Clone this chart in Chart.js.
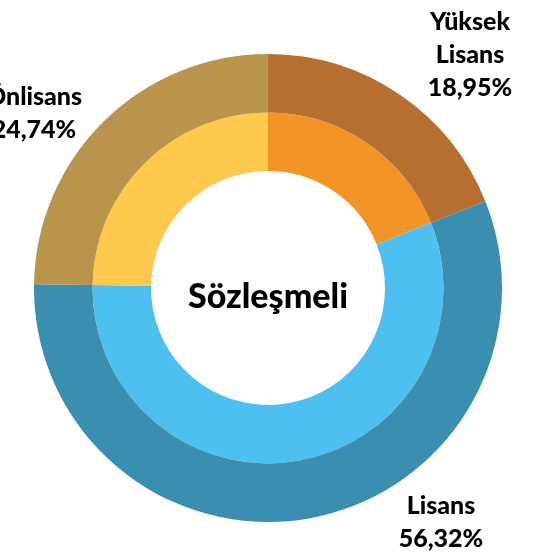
<!DOCTYPE html>
<html>
<head>
<meta charset="utf-8">
<script src="https://cdn.jsdelivr.net/npm/chart.js@4/dist/chart.umd.min.js"></script>
<style>
  html, body { margin: 0; padding: 0; background: #fff; }
  #wrap { width: 542px; height: 555px; position: relative; }
</style>
</head>
<body>
<div id="wrap"><canvas id="myChart"></canvas></div>
<script>
const categories = ["Yüksek Lisans", "Lisans", "Önlisans"];
const values = [18.95, 56.32, 24.74];
const valueLabels = ["18,95%", "56,32%", "24,74%"];
const outerColors = ["#B66F30", "#3A8FB1", "#B9944C"];
const innerColors = ["#F39426", "#4EC0EF", "#FFC94E"];
const centerTitle = "Sözleşmeli";

// label lines, name split the way the picture shows
const labelLines = [
  ["Yüksek", "Lisans", valueLabels[0]],
  ["Lisans", valueLabels[1]],
  ["Önlisans", valueLabels[2]]
];
// label block centres, relative to doughnut centre
const labelOffsets = [[202, -233], [173, 234], [-234, -175]];

const textFont = "900 25px Lato";

const labelsPlugin = {
  id: "labelsPlugin",
  afterDraw(chart) {
    const arc = chart.getDatasetMeta(0).data[0];
    const cx = arc.x, cy = arc.y;
    const c = chart.ctx;
    c.save();
    c.fillStyle = "#000";
    c.textAlign = "center";
    c.textBaseline = "middle";
    c.font = "900 34px Lato";
    c.fillText(centerTitle, cx, cy + 9);
    c.font = textFont;
    const lh = 33;
    labelLines.forEach((lines, i) => {
      const x = cx + labelOffsets[i][0];
      const y0 = cy + labelOffsets[i][1] - (lines.length - 1) * lh / 2;
      lines.forEach((t, k) => c.fillText(t, x, y0 + k * lh));
    });
    c.restore();
  }
};

new Chart(document.getElementById("myChart").getContext("2d"), {
  type: "doughnut",
  data: {
    labels: categories,
    datasets: [
      { data: values, backgroundColor: outerColors, borderWidth: 0 },
      { data: values, backgroundColor: innerColors, borderWidth: 0 }
    ]
  },
  options: {
    responsive: true,
    maintainAspectRatio: false,
    animation: false,
    cutout: "50%",
    layout: { padding: { left: 34, right: 40, top: 54, bottom: 33 } },
    plugins: {
      legend: { display: false },
      tooltip: { enabled: false }
    }
  },
  plugins: [labelsPlugin]
});
</script>
</body>
</html>
